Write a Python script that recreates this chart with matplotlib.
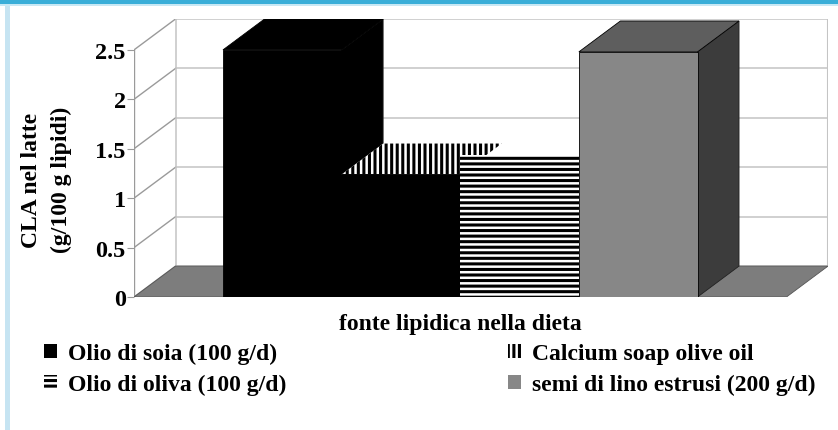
import matplotlib.pyplot as plt
from matplotlib.patches import Polygon, Rectangle, Patch

plt.rcParams['font.family'] = 'Liberation Serif'
plt.rcParams['font.weight'] = 'bold'
plt.rcParams['hatch.linewidth'] = 2.2

# CLA in milk (g/100 g lipids) for each dietary fat source
sources = ['Olio di soia (100 g/d)', 'Calcium soap olive oil',
           'Olio di oliva (100 g/d)', 'semi di lino estrusi (200 g/d)']
cla = [2.5, 1.24, 1.44, 2.48]
yticks = [0, 0.5, 1, 1.5, 2, 2.5]
ytick_labels = ['0', '0.5', '1', '1.5', '2', '2.5']

# face styles: (front, top, side) -> (facecolor, hatch)
faces = [
    (('black', None), ('black', None), ('black', None)),
    (('black', None), ('white', '|||'), None),
    (('white', '---'), None, None),
    (('#878787', None), ('#5e5e5e', None), ('#3c3c3c', None)),
]
legend_style = [('black', None), ('white', '|||'), ('white', '---'), ('#878787', None)]

gap, width = 0.75, 1.0
dx, dy = 0.35, 0.3125           # depth offset of the 3D box
xmax = 2 * gap + width * len(cla)
ymax = yticks[-1]

serif = {'family': 'Liberation Serif', 'weight': 'bold', 'size': 17}

fig = plt.figure(figsize=(8.38, 4.31), dpi=100)
W, H = 838, 431
ax = fig.add_axes([134 / W, (H - 298) / H, (828 - 134) / W, (298 - 20) / H])
ax.set_xlim(0, xmax + dx)
ax.set_ylim(0, ymax + dy)
for s in ax.spines.values():
    s.set_visible(False)
ax.set_xticks([])
ax.set_yticks(yticks)
ax.set_yticklabels(ytick_labels, fontsize=17.5, family='Liberation Serif',
                   fontweight='bold')
ax.tick_params(axis='y', length=5, color='#9a9a9a', pad=1)

grid = '#c4c4c4'
# back wall and left wall gridlines
for v in yticks:
    ax.plot([dx, xmax + dx], [v + dy, v + dy], color=grid, lw=1.1, zorder=1)
    ax.plot([0, dx], [v, v + dy], color='#9a9a9a', lw=1.0, zorder=1)
ax.plot([dx, dx], [dy, ymax + dy], color=grid, lw=1.1, zorder=1)
ax.plot([xmax + dx, xmax + dx], [dy, ymax + dy], color=grid, lw=1.5, zorder=1)
ax.plot([0, 0], [0, ymax], color='#9a9a9a', lw=1.0, zorder=1)

# floor
ax.add_patch(Polygon([(0, 0), (xmax, 0), (xmax + dx, dy), (dx, dy)],
                     closed=True, facecolor='#7d7d7d', edgecolor='#555555',
                     lw=0.6, zorder=2))

# bars, drawn left to right so each front hides the previous side face
for i, (v, (front, top, side)) in enumerate(zip(cla, faces)):
    x0 = gap + i * width
    x1 = x0 + width
    z = 3 + i
    if side is not None:
        ax.add_patch(Polygon([(x1, 0), (x1 + dx, dy), (x1 + dx, v + dy), (x1, v)],
                             closed=True, facecolor=side[0], hatch=side[1],
                             edgecolor='#222222' if side[1] is None else 'black',
                             lw=0.6, zorder=z))
    if top is not None:
        ax.add_patch(Polygon([(x0, v), (x1, v), (x1 + dx, v + dy), (x0 + dx, v + dy)],
                             closed=True, facecolor=top[0], hatch=top[1],
                             edgecolor='black', lw=0.0 if top[1] else 0.6, zorder=z))
    ax.add_patch(Rectangle((x0, 0), width, v, facecolor=front[0], hatch=front[1],
                           edgecolor='black', lw=0.0 if front[1] else 0.6, zorder=z))

fig.text(46.5 / W, 1 - 180 / H, 'CLA nel latte\n(g/100 g lipidi)', fontdict=serif,
         rotation=90, ha='center', va='center', linespacing=1.5)
fig.text(460 / W, 1 - 325 / H, 'fonte lipidica nella dieta', fontdict=serif,
         ha='center', va='center')

handles = [Patch(facecolor=legend_style[k][0], hatch=legend_style[k][1],
                 edgecolor='black', lw=0, label=sources[k]) for k in (0, 2, 1, 3)]
fig.legend(handles=handles, loc='upper left', bbox_to_anchor=(23 / W, 1 - 323 / H),
           ncol=2, frameon=False, prop=serif, handlelength=0.55, handleheight=0.55,
           handletextpad=0.45, columnspacing=9.4, labelspacing=0.4)

# page frame
fig.patches.append(Rectangle((0, 1 - 5 / H), 1, 5 / H, transform=fig.transFigure,
                             facecolor='#3aaed8', edgecolor='none'))
fig.patches.append(Rectangle((0, 1 - 7 / H), 1, 2 / H, transform=fig.transFigure,
                             facecolor='#c8e8f4', edgecolor='none'))
fig.patches.append(Rectangle((5 / W, 0), 5 / W, 1 - 7 / H, transform=fig.transFigure,
                             facecolor='#c6e4f2', edgecolor='none'))

fig.savefig('out.png', dpi=100)
